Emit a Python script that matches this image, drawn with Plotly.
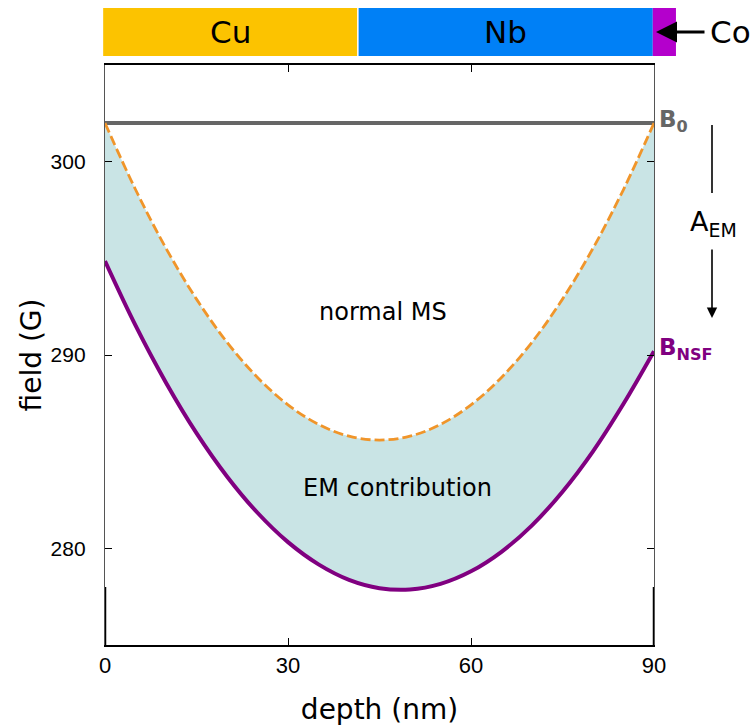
import plotly.graph_objects as go

# Depth grid (nm) and field profiles (G)
depth = [0, 5, 10, 15, 20, 25, 30, 35, 40, 45, 50, 55, 60, 65, 70, 75, 80, 85, 90]
normal_ms = [302.0, 298.56, 295.52, 292.89, 290.66, 288.84, 287.42, 286.41, 285.80, 285.60,
             285.80, 286.41, 287.42, 288.84, 290.66, 292.89, 295.52, 298.56, 302.0]
b_nsf = [294.86, 291.53, 288.57, 285.96, 283.72, 281.84, 280.32, 279.17, 278.37, 277.94,
         277.87, 278.16, 278.81, 279.82, 281.19, 282.93, 285.02, 287.48, 290.20]
b0 = 302.0

# Sample layer stack (depth edges in nm)
layers = ["Cu", "Nb", "Co"]
layer_edges = [-0.3, 41.45, 89.8, 93.6]
layer_colors = ["#FCC300", "#0080F6", "#B400CC"]

x_ticks = [0, 30, 60, 90]
y_ticks = [280, 290, 300]
x_range = [0, 90]

FONT = "DejaVu Sans"
W, H = 755, 727
L, R, T, B = 105, 101, 65, 82
PW, PH = W - L - R, H - T - B


def px_x(p):
    return (p - L) / PW


def px_y(p):
    return (H - B - p) / PH


def nm_to_paper(v):
    return (v - x_range[0]) / (x_range[1] - x_range[0])


fig = go.Figure()

# EM contribution: shaded band between the two profiles
fig.add_trace(go.Scatter(x=depth, y=b_nsf, mode="lines", line=dict(width=0, shape="spline"),
                         hoverinfo="skip", showlegend=False))
fig.add_trace(go.Scatter(x=depth, y=normal_ms, mode="lines", line=dict(width=0, shape="spline"),
                         fill="tonexty", fillcolor="#C9E4E5", hoverinfo="skip", showlegend=False))

# Applied field
fig.add_trace(go.Scatter(x=[depth[0], depth[-1]], y=[b0, b0], mode="lines",
                         line=dict(color="#666666", width=4), showlegend=False))
# Normal Meissner screening
fig.add_trace(go.Scatter(x=depth, y=normal_ms, mode="lines",
                         line=dict(color="#F0952A", width=2.8, dash="10px,4px", shape="spline"),
                         showlegend=False))
# Measured non-spin-flip field
fig.add_trace(go.Scatter(x=depth, y=b_nsf, mode="lines",
                         line=dict(color="#800080", width=4, shape="spline"),
                         showlegend=False))

shapes = []
# Layer bar above the plot
for name, x0, x1, col in zip(layers, layer_edges[:-1], layer_edges[1:], layer_colors):
    shapes.append(dict(type="rect", xref="paper", yref="paper",
                       x0=nm_to_paper(x0), x1=nm_to_paper(x1),
                       y0=px_y(56), y1=px_y(8), fillcolor=col, line=dict(width=0),
                       layer="above"))
# thin white gap between Cu and Nb
shapes.append(dict(type="line", xref="paper", yref="paper",
                   x0=nm_to_paper(layer_edges[1]), x1=nm_to_paper(layer_edges[1]),
                   y0=px_y(56), y1=px_y(8), line=dict(color="white", width=1.5), layer="above"))
# darker lower spine segments
for xv in x_range:
    shapes.append(dict(type="line", xref="x", yref="y", x0=xv, x1=xv, y0=275, y1=278,
                       line=dict(color="black", width=2.5), layer="above"))
# upper part of the A_EM arrow
shapes.append(dict(type="line", xref="paper", yref="paper", x0=px_x(712), x1=px_x(712),
                   y0=px_y(125), y1=px_y(193), line=dict(color="black", width=1.6)))

annotations = []
for name, x0, x1 in zip(layers[:2], layer_edges[:2], layer_edges[1:3]):
    annotations.append(dict(x=nm_to_paper((x0 + x1) / 2), y=px_y(32), xref="paper", yref="paper",
                            text=name, showarrow=False, xanchor="center", yanchor="middle",
                            font=dict(family=FONT, size=31, color="black")))
annotations += [
    # Co label with arrow pointing at the thin layer
    dict(x=px_x(656), y=px_y(32), xref="paper", yref="paper", text="", showarrow=True,
         ax=50, ay=0, arrowhead=2, arrowsize=1.4, arrowwidth=3, arrowcolor="black"),
    dict(x=px_x(708), y=px_y(32), xref="paper", yref="paper", text=layers[2], xanchor="left",
         yanchor="middle", showarrow=False, font=dict(family=FONT, size=31, color="black")),
    # region labels
    dict(x=45.6, y=292.2, xref="x", yref="y", text="normal MS", showarrow=False,
         xanchor="center", yanchor="middle", font=dict(family=FONT, size=24, color="black")),
    dict(x=48.0, y=283.1, xref="x", yref="y", text="EM contribution", showarrow=False,
         xanchor="center", yanchor="middle", font=dict(family=FONT, size=24, color="black")),
    # right-hand labels
    dict(x=px_x(657), y=px_y(121), xref="paper", yref="paper", text="<b>B<sub>0</sub></b>",
         xanchor="left", yanchor="middle", showarrow=False,
         font=dict(family=FONT, size=23, color="#666666")),
    dict(x=px_x(657), y=px_y(349), xref="paper", yref="paper", text="<b>B<sub>NSF</sub></b>",
         xanchor="left", yanchor="middle", showarrow=False,
         font=dict(family=FONT, size=23, color="#800080")),
    dict(x=px_x(713), y=px_y(223), xref="paper", yref="paper", text="A<sub>EM</sub>",
         xanchor="center", yanchor="middle", showarrow=False,
         font=dict(family=FONT, size=27, color="black")),
    dict(x=px_x(712), y=px_y(318), xref="paper", yref="paper", text="", showarrow=True,
         ax=0, ay=-70, arrowhead=2, arrowsize=1.3, arrowwidth=1.6, arrowcolor="black"),
]

fig.update_layout(
    width=W, height=H,
    margin=dict(l=L, r=R, t=T, b=B),
    plot_bgcolor="white", paper_bgcolor="white",
    showlegend=False,
    shapes=shapes, annotations=annotations,
    xaxis=dict(range=x_range, tickvals=x_ticks, ticks="inside", ticklen=7, tickwidth=1.3,
               tickcolor="black", showline=True, linecolor="black", linewidth=2,
               mirror="ticks", showgrid=False, zeroline=False, ticklabelstandoff=0,
               automargin=False,
               tickfont=dict(family="Liberation Sans", size=22, color="black"),
               title=dict(text="depth (nm)", standoff=22,
                          font=dict(family=FONT, size=28, color="black"))),
    yaxis=dict(range=[275, 305], tickvals=y_ticks, ticks="inside", ticklen=7, tickwidth=1.3,
               tickcolor="black", showline=True, linecolor="#555555", linewidth=1.3,
               mirror="ticks", showgrid=False, zeroline=False, ticklabelstandoff=14,
               automargin=False,
               tickfont=dict(family="Liberation Sans", size=21, color="black"),
               title=dict(text="field (G)", standoff=0,
                          font=dict(family=FONT, size=28, color="black"))),
)

fig.write_html("out.html")
